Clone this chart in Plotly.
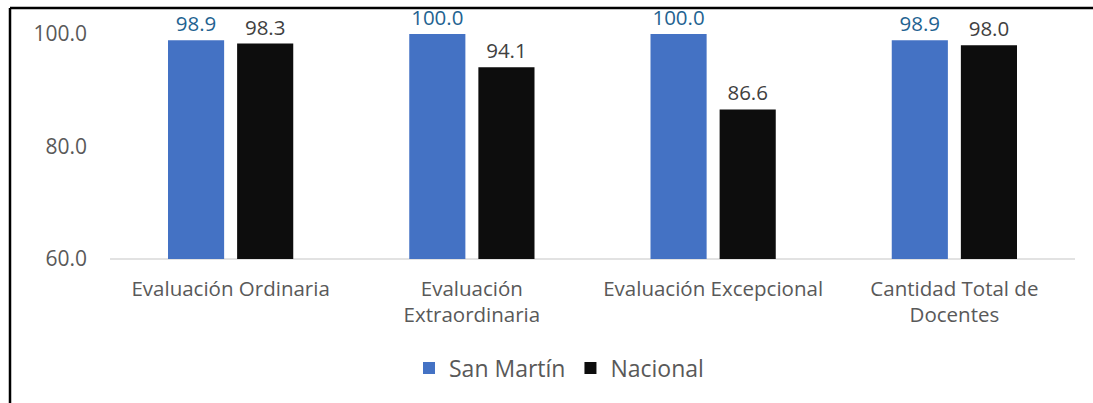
import plotly.graph_objects as go

categories = ["Evaluación Ordinaria", "Evaluación<br>Extraordinaria",
              "Evaluación Excepcional", "Cantidad Total de<br>Docentes"]
san_martin = [98.9, 100.0, 100.0, 98.9]
nacional = [98.3, 94.1, 86.6, 98.0]
y_ticks = [60.0, 80.0, 100.0]

FONT = "Open Sans"
GRAY = "#595959"

fig = go.Figure()
fig.add_trace(go.Bar(
    name="San Martín", x=categories, y=san_martin,
    marker=dict(color="#4472C4", line=dict(width=0)),
    text=[f"{v:.1f}" for v in san_martin], textposition="outside",
    textfont=dict(family=FONT, size=20.5, color="#1F6391"),
    cliponaxis=False,
))
fig.add_trace(go.Bar(
    name="Nacional", x=categories, y=nacional,
    marker=dict(color="#0D0D0D", line=dict(width=0)),
    text=[f"{v:.1f}" for v in nacional], textposition="outside",
    textfont=dict(family=FONT, size=20.5, color="#404040"),
    cliponaxis=False,
))

L, R, T, B = 110, 18, 34, 144
W, H = 1093, 403
pw, ph = W - L - R, H - T - B

def px_x(p):
    return (p - L) / pw

def px_y(p):
    return (H - B - p) / ph

fig.update_layout(
    width=W, height=H,
    margin=dict(l=L, r=R, t=T, b=B),
    paper_bgcolor="white", plot_bgcolor="white",
    barmode="group", bargap=0.427, bargroupgap=0.188,
    font=dict(family=FONT, size=20, color=GRAY),
    showlegend=True,
    legend=dict(orientation="h", x=px_x(559), xanchor="center", y=px_y(368), yanchor="middle",
                font=dict(family=FONT, size=23, color=GRAY),
                itemwidth=30, traceorder="normal"),
    xaxis=dict(showline=False, ticks="", tickfont=dict(size=20.5, color=GRAY),
               ticklabelstandoff=15),
    yaxis=dict(range=[60, 100], tickvals=y_ticks, ticktext=[f"{v:.1f}" for v in y_ticks],
               showgrid=False, zeroline=False, showline=False, ticks="",
               tickfont=dict(size=21, color=GRAY), ticklabelstandoff=22),
    shapes=[
        dict(type="line", xref="paper", yref="paper", x0=0, x1=1, y0=0, y1=0,
             line=dict(color="#D9D9D9", width=1.5), layer="below"),
        dict(type="line", xref="paper", yref="paper", x0=px_x(10), x1=px_x(1093),
             y0=px_y(8), y1=px_y(8), line=dict(color="black", width=2.5)),
        dict(type="line", xref="paper", yref="paper", x0=px_x(10), x1=px_x(10),
             y0=px_y(8), y1=px_y(403), line=dict(color="black", width=2.5)),
    ],
)

fig.write_html("out.html", config={"displayModeBar": False},
               post_script="document.body.style.margin='0';")
